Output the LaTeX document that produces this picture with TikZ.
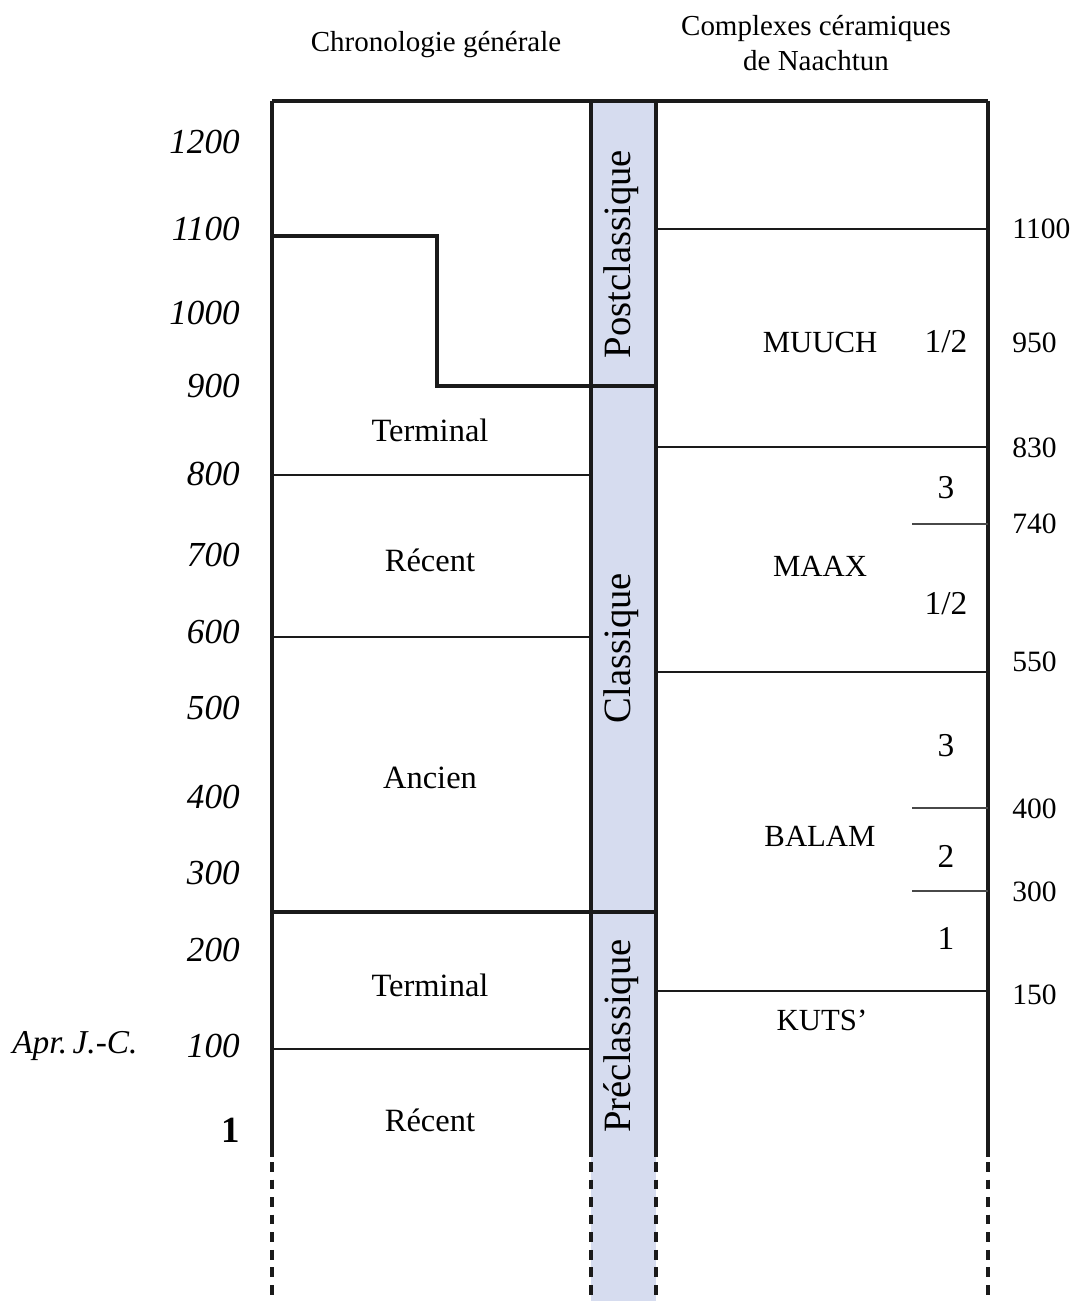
\documentclass[tikz,border=0pt]{standalone}
\usepackage{fontspec}
\setmainfont{Liberation Serif}
\definecolor{band}{HTML}{D6DCEF}
\definecolor{lin}{HTML}{1A1A1A}
\begin{document}
\begin{tikzpicture}[x=0.02cm,y=-0.02cm,
  thickl/.style={line width=2.1pt,draw=lin},
  thinl/.style={line width=1.1pt,draw=lin},
  shortl/.style={line width=1.1pt,draw=lin!80},
  dashl/.style={line width=2.1pt,draw=lin,dash pattern=on 5.5pt off 4.5pt},
  yearl/.style={font=\fontsize{20}{22}\selectfont\itshape,anchor=east,inner sep=0pt},
  yearr/.style={font=\fontsize{16.8}{19}\selectfont,anchor=west,inner sep=0pt},
  per/.style={font=\fontsize{18.5}{20}\selectfont,inner sep=0pt},
  cplx/.style={font=\fontsize{17.5}{19}\selectfont,inner sep=0pt},
  sub/.style={font=\fontsize{19}{20}\selectfont,inner sep=0pt},
  bandt/.style={font=\fontsize{22}{24}\selectfont,rotate=90,inner sep=0pt},
  head/.style={font=\fontsize{16.5}{20}\selectfont,align=center,inner sep=0pt}]
\useasboundingbox (0,0) rectangle (1071,1301);
% blue band
\fill[band] (591,101) rectangle (656,1301);
% frame solid
\draw[thickl] (272,101) -- (988,101);
\draw[thickl] (272,101) -- (272,1157);
\draw[thickl] (591,101) -- (591,1157);
\draw[thickl] (656,101) -- (656,1157);
\draw[thickl] (988,101) -- (988,1157);
% dashed continuation
\draw[dashl] (272,1162) -- (272,1298);
\draw[dashl] (591,1162) -- (591,1298);
\draw[dashl] (656,1162) -- (656,1298);
\draw[dashl] (988,1162) -- (988,1298);
% left column
\draw[thickl] (272,236) -- (437,236) -- (437,386) -- (656,386);
\draw[thinl] (272,475) -- (591,475);
\draw[thinl] (272,637) -- (591,637);
\draw[thickl] (272,912) -- (656,912);
\draw[thinl] (272,1049) -- (591,1049);
% right column
\draw[thinl] (656,229) -- (988,229);
\draw[thinl] (656,447) -- (988,447);
\draw[shortl] (912,524) -- (988,524);
\draw[thinl] (656,672) -- (988,672);
\draw[shortl] (912,808) -- (988,808);
\draw[shortl] (912,891) -- (988,891);
\draw[thinl] (656,991) -- (988,991);
% headers
\node[head] (h1) at (436,45) {Chronologie générale};
\node[head] (h2) at (816,43) {Complexes céramiques\\de Naachtun};
% left years
\node[yearl] (y1200) at (240,142) {1200};
\node[yearl] (y1100) at (240,229) {1100};
\node[yearl] (y1000) at (240,313) {1000};
\node[yearl] (y900) at (240,386) {900};
\node[yearl] (y800) at (240,474) {800};
\node[yearl] (y700) at (240,555) {700};
\node[yearl] (y600) at (240,632) {600};
\node[yearl] (y500) at (240,708) {500};
\node[yearl] (y400) at (240,797) {400};
\node[yearl] (y300) at (240,873) {300};
\node[yearl] (y200) at (240,950) {200};
\node[yearl] (y100) at (240,1046) {100};
\node[font=\fontsize{21}{22}\selectfont\bfseries,anchor=east,inner sep=0pt] (y1) at (240,1130) {1};
\node[font=\fontsize{19}{20}\selectfont\itshape,anchor=west,inner sep=0pt] (apr) at (12,1046) {Apr.\,J.-C.};
% right years
\node[yearr] (r1100) at (1012,229) {1100};
\node[yearr] (r950) at (1012,343) {950};
\node[yearr] (r830) at (1012,448) {830};
\node[yearr] (r740) at (1012,524) {740};
\node[yearr] (r550) at (1012,662) {550};
\node[yearr] (r400) at (1012,809) {400};
\node[yearr] (r300) at (1012,892) {300};
\node[yearr] (r150) at (1012,995) {150};
% periods
\node[per] (p1) at (430,430) {Terminal};
\node[per] (p2) at (430,560) {Récent};
\node[per] (p3) at (430,778) {Ancien};
\node[per] (p4) at (430,985) {Terminal};
\node[per] (p5) at (430,1120) {Récent};
% band labels
\node[bandt] (b1) at (621,254) {Postclassique};
\node[bandt] (b2) at (621,648) {Classique};
\node[bandt] (b3) at (621,1036) {Préclassique};
% complexes
\node[cplx] (c1) at (820,342) {MUUCH};
\node[cplx] (c2) at (820,566) {MAAX};
\node[cplx] (c3) at (820,836) {BALAM};
\node[cplx] (c4) at (822,1020) {KUTS'};
% sub-phases
\node[sub] (s1) at (946,342) {1/2};
\node[sub] (s2) at (946,488) {3};
\node[sub] (s3) at (946,604) {1/2};
\node[sub] (s4) at (946,746) {3};
\node[sub] (s5) at (946,856) {2};
\node[sub] (s6) at (946,938) {1};
\end{tikzpicture}
\end{document}
